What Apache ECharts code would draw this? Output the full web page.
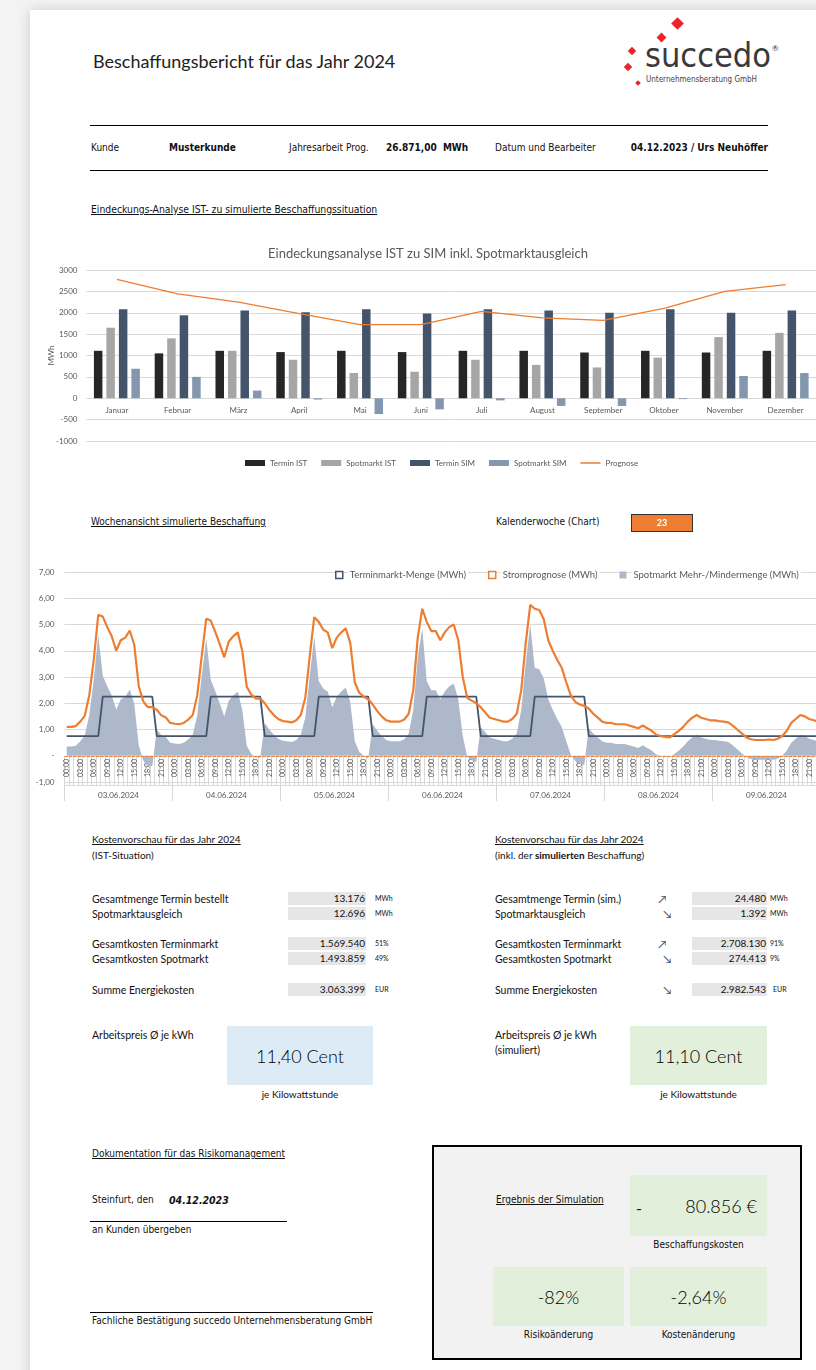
<!DOCTYPE html>
<html lang="de">
<head>
<meta charset="utf-8">
<title>Beschaffungsbericht 2024</title>
<script src="https://cdn.jsdelivr.net/npm/echarts@6/dist/echarts.min.js"></script>
<style>
  body { margin:0; width:816px; height:1370px; overflow:hidden; position:relative; background:#f3f3f3; font-family:Lato, sans-serif; color:#111; }
  #page { position:absolute; left:30px; top:10px; width:820px; height:1380px; background:#fff; box-shadow:0 0 12px rgba(0,0,0,0.16); }
  .t { position:absolute; white-space:nowrap; font-size:10.5px; line-height:12px; }
  .n { font-family:'Liberation Sans Narrow','DejaVu Sans Condensed',sans-serif; }
  .u { text-decoration:underline; }
  .b { font-weight:bold; }
  .hl { position:absolute; height:0; border-top:1.3px solid #000; }
  .box { position:absolute; background:#e7e6e6; height:13px; }
  .val { position:absolute; font-size:10px; line-height:13px; text-align:right; }
  .unit { position:absolute; font-size:7px; line-height:13px; }
  .arr { position:absolute; font-size:11px; color:#44546a; line-height:13px; }
  .big { position:absolute; display:flex; align-items:center; justify-content:center; font-size:18px; font-weight:300; color:#000; }
  .dia { position:absolute; background:#e8262c; transform:rotate(45deg); }
</style>
</head>
<body>
<div id="page"></div>

<!-- Kopf -->
<div class="t" style="left:93px;top:50px;font-size:18px;line-height:22px;color:#222;">Beschaffungsbericht für das Jahr 2024</div>
<div class="dia" style="left:673px;top:19px;width:9px;height:9px;"></div>
<div class="dia" style="left:658px;top:34px;width:7px;height:7px;"></div>
<div class="dia" style="left:629px;top:48px;width:6px;height:6px;"></div>
<div class="dia" style="left:625px;top:64px;width:6px;height:6px;"></div>
<div class="dia" style="left:636px;top:81px;width:4px;height:4px;"></div>
<div class="t n" style="left:645px;top:37px;font-size:34px;line-height:36px;color:#3a3a3a;">succedo</div>
<div class="t" style="left:772px;top:42px;font-size:8px;color:#333;">®</div>
<div class="t n" style="left:646px;top:75px;font-size:8px;line-height:10px;color:#444;">Unternehmensberatung GmbH</div>

<div class="hl" style="left:90px;top:125px;width:678px;"></div>
<div class="t n" style="left:91px;top:142px;font-size:10px;">Kunde</div>
<div class="t n b" style="left:169px;top:142px;font-size:10px;">Musterkunde</div>
<div class="t n" style="left:289px;top:142px;font-size:10px;">Jahresarbeit Prog.</div>
<div class="t n b" style="left:386px;top:142px;font-size:10px;">26.871,00&nbsp;&nbsp;MWh</div>
<div class="t n" style="left:495px;top:142px;font-size:10px;">Datum und Bearbeiter</div>
<div class="t n b" style="right:48px;top:142px;font-size:10px;">04.12.2023 / Urs Neuhöffer</div>
<div class="hl" style="left:90px;top:170px;width:678px;"></div>

<div class="t n u" style="left:91px;top:203px;font-size:10.3px;">Eindeckungs-Analyse IST- zu simulierte Beschaffungssituation</div>

<div id="jahr" style="position:absolute;left:30px;top:235px;width:796px;height:240px;"></div>

<div class="t n u" style="left:91px;top:516px;font-size:10px;">Wochenansicht simulierte Beschaffung</div>
<div class="t n" style="left:496px;top:516px;font-size:10px;">Kalenderwoche (Chart)</div>
<div style="position:absolute;left:631px;top:514px;width:60px;height:16px;background:#ed7d31;border:1px solid #333;color:#fff;font-size:9px;font-weight:bold;text-align:center;line-height:16px;">23</div>

<div id="woche" style="position:absolute;left:30px;top:560px;width:800px;height:245px;"></div>

<!-- Kostenvorschau IST -->
<div class="t u" style="left:92px;top:833px;font-size:10px;">Kostenvorschau für das Jahr 2024</div>
<div class="t" style="left:92px;top:849px;font-size:10px;">(IST-Situation)</div>
<div class="t" style="left:92px;top:893px;">Gesamtmenge Termin bestellt</div>
<div class="t" style="left:92px;top:908px;">Spotmarktausgleich</div>
<div class="t" style="left:92px;top:938px;">Gesamtkosten Terminmarkt</div>
<div class="t" style="left:92px;top:953px;">Gesamtkosten Spotmarkt</div>
<div class="t" style="left:92px;top:984px;">Summe Energiekosten</div>
<div class="box" style="left:288px;top:892px;width:78px;"></div>
<div class="box" style="left:288px;top:907px;width:78px;"></div>
<div class="box" style="left:288px;top:937px;width:78px;"></div>
<div class="box" style="left:288px;top:952px;width:78px;"></div>
<div class="box" style="left:288px;top:983px;width:78px;"></div>
<div class="val" style="left:288px;top:892px;width:77px;">13.176</div>
<div class="val" style="left:288px;top:907px;width:77px;">12.696</div>
<div class="val" style="left:288px;top:937px;width:77px;">1.569.540</div>
<div class="val" style="left:288px;top:952px;width:77px;">1.493.859</div>
<div class="val" style="left:288px;top:983px;width:77px;">3.063.399</div>
<div class="unit" style="left:375px;top:892px;">MWh</div>
<div class="unit" style="left:375px;top:907px;">MWh</div>
<div class="unit" style="left:375px;top:937px;">51%</div>
<div class="unit" style="left:375px;top:952px;">49%</div>
<div class="unit" style="left:375px;top:983px;">EUR</div>
<div class="t" style="left:92px;top:1029px;">Arbeitspreis Ø je kWh</div>
<div class="big" style="left:227px;top:1026px;width:146px;height:59px;background:#ddebf7;">11,40 Cent</div>
<div class="t" style="left:227px;top:1088px;width:146px;text-align:center;font-size:10px;">je Kilowattstunde</div>

<!-- Kostenvorschau simuliert -->
<div class="t u" style="left:495px;top:833px;font-size:10px;">Kostenvorschau für das Jahr 2024</div>
<div class="t" style="left:495px;top:849px;font-size:10px;">(inkl. der <b>simulierten</b> Beschaffung)</div>
<div class="t" style="left:495px;top:893px;">Gesamtmenge Termin (sim.)</div>
<div class="t" style="left:495px;top:908px;">Spotmarktausgleich</div>
<div class="t" style="left:495px;top:938px;">Gesamtkosten Terminmarkt</div>
<div class="t" style="left:495px;top:953px;">Gesamtkosten Spotmarkt</div>
<div class="t" style="left:495px;top:984px;">Summe Energiekosten</div>
<div class="arr" style="left:658px;top:892px;">↗</div>
<div class="arr" style="left:663px;top:907px;">↘</div>
<div class="arr" style="left:658px;top:937px;">↗</div>
<div class="arr" style="left:663px;top:952px;">↘</div>
<div class="arr" style="left:663px;top:983px;">↘</div>
<div class="box" style="left:692px;top:892px;width:75px;"></div>
<div class="box" style="left:692px;top:907px;width:75px;"></div>
<div class="box" style="left:692px;top:937px;width:75px;"></div>
<div class="box" style="left:692px;top:952px;width:75px;"></div>
<div class="box" style="left:692px;top:983px;width:75px;"></div>
<div class="val" style="left:692px;top:892px;width:74px;">24.480</div>
<div class="val" style="left:692px;top:907px;width:74px;">1.392</div>
<div class="val" style="left:692px;top:937px;width:74px;">2.708.130</div>
<div class="val" style="left:692px;top:952px;width:74px;">274.413</div>
<div class="val" style="left:692px;top:983px;width:74px;">2.982.543</div>
<div class="unit" style="left:770px;top:892px;">MWh</div>
<div class="unit" style="left:770px;top:907px;">MWh</div>
<div class="unit" style="left:770px;top:937px;">91%</div>
<div class="unit" style="left:770px;top:952px;">9%</div>
<div class="unit" style="left:773px;top:983px;">EUR</div>
<div class="t" style="left:495px;top:1029px;">Arbeitspreis Ø je kWh</div>
<div class="t" style="left:495px;top:1044px;">(simuliert)</div>
<div class="big" style="left:630px;top:1026px;width:137px;height:59px;background:#e2efda;">11,10 Cent</div>
<div class="t" style="left:630px;top:1088px;width:137px;text-align:center;font-size:10px;">je Kilowattstunde</div>

<!-- Dokumentation -->
<div class="t n u" style="left:92px;top:1148px;font-size:10px;">Dokumentation für das Risikomanagement</div>
<div class="t n" style="left:92px;top:1194px;font-size:10px;">Steinfurt, den</div>
<div class="t n b" style="left:169px;top:1194px;font-size:10.5px;font-style:italic;">04.12.2023</div>
<div class="hl" style="left:90px;top:1221px;width:197px;"></div>
<div class="t n" style="left:92px;top:1224px;font-size:10px;">an Kunden übergeben</div>
<div class="hl" style="left:90px;top:1312px;width:283px;"></div>
<div class="t n" style="left:92px;top:1315px;font-size:10px;">Fachliche Bestätigung succedo Unternehmensberatung GmbH</div>

<div style="position:absolute;left:432px;top:1145px;width:366px;height:211px;background:#f2f2f2;border:2px solid #000;"></div>
<div class="t n u" style="left:496px;top:1194px;font-size:10px;">Ergebnis der Simulation</div>
<div class="big" style="left:630px;top:1175px;width:137px;height:61px;background:#e2efda;justify-content:flex-end;padding-right:10px;box-sizing:border-box;">80.856 €</div>
<div class="t" style="left:636px;top:1198px;font-size:16px;line-height:20px;">-</div>
<div class="t n" style="left:630px;top:1239px;width:137px;text-align:center;font-size:10px;">Beschaffungskosten</div>
<div class="big" style="left:493px;top:1267px;width:131px;height:59px;background:#e2efda;">-82%</div>
<div class="big" style="left:630px;top:1267px;width:137px;height:59px;background:#e2efda;">-2,64%</div>
<div class="t n" style="left:493px;top:1329px;width:131px;text-align:center;font-size:10px;">Risikoänderung</div>
<div class="t n" style="left:630px;top:1329px;width:137px;text-align:center;font-size:10px;">Kostenänderung</div>

<script>
// Jahresübersicht (MWh)
var months = ['Januar', 'Februar', 'März', 'April', 'Mai', 'Juni', 'Juli', 'August', 'September', 'Oktober', 'November', 'Dezember'];
var terminIst = [1110, 1050, 1110, 1080, 1110, 1080, 1110, 1110, 1070, 1110, 1070, 1110];
var spotIst = [1650, 1400, 1110, 900, 590, 620, 900, 780, 720, 950, 1430, 1530];
var terminSim = [2080, 1940, 2050, 2010, 2080, 1980, 2080, 2050, 2000, 2080, 2000, 2050];
var spotSim = [690, 500, 180, -30, -370, -260, -50, -180, -180, -20, 520, 590];
var prognoseJahr = [2780, 2440, 2250, 1980, 1720, 1720, 2030, 1880, 1820, 2100, 2500, 2660];

// Woche KW 23, stündlich (MWh)
var days = ['03.06.2024', '04.06.2024', '05.06.2024', '06.06.2024', '07.06.2024', '08.06.2024', '09.06.2024'];
var hours = ['00:00', '01:00', '02:00', '03:00', '04:00', '05:00', '06:00', '07:00', '08:00', '09:00', '10:00', '11:00',
  '12:00', '13:00', '14:00', '15:00', '16:00', '17:00', '18:00', '19:00', '20:00', '21:00', '22:00', '23:00'];
var prognose = [
  1.10, 1.10, 1.13, 1.30, 1.52, 2.30, 3.65, 5.37, 5.30, 4.90, 4.55, 4.00, 4.40, 4.50, 4.77, 4.23, 2.65, 2.07, 1.85, 1.85, 1.75, 1.54, 1.46, 1.25,
  1.22, 1.20, 1.25, 1.38, 1.55, 2.30, 3.80, 5.22, 5.15, 4.72, 4.25, 3.75, 4.35, 4.55, 4.70, 4.00, 2.63, 2.33, 2.18, 2.18, 2.00, 1.75, 1.55, 1.40,
  1.32, 1.30, 1.27, 1.35, 1.55, 2.20, 3.80, 5.28, 5.10, 4.80, 4.70, 4.10, 4.50, 4.70, 4.85, 4.30, 2.80, 2.40, 2.25, 2.15, 1.95, 1.70, 1.50, 1.35,
  1.30, 1.30, 1.30, 1.38, 1.60, 2.50, 4.50, 5.60, 5.10, 4.75, 4.75, 4.40, 4.70, 4.90, 5.00, 4.40, 3.00, 2.20, 2.10, 2.00, 1.85, 1.65, 1.45, 1.40,
  1.35, 1.30, 1.30, 1.40, 1.60, 2.50, 4.30, 5.75, 5.60, 5.55, 5.20, 4.40, 4.00, 3.65, 3.35, 2.80, 2.30, 2.05, 1.95, 1.90, 1.80, 1.60, 1.45, 1.30,
  1.25, 1.25, 1.20, 1.20, 1.20, 1.15, 1.10, 1.05, 1.15, 1.05, 0.95, 0.80, 0.75, 0.72, 0.70, 0.82, 0.95, 1.10, 1.30, 1.45, 1.55, 1.45, 1.40, 1.35,
  1.35, 1.32, 1.30, 1.27, 1.15, 1.00, 0.85, 0.70, 0.63, 0.60, 0.60, 0.60, 0.62, 0.60, 0.65, 0.75, 0.95, 1.25, 1.40, 1.55, 1.50, 1.40, 1.35, 1.30
];
var termin = [
  0.75, 0.75, 0.75, 0.75, 0.75, 0.75, 0.75, 0.75, 2.25, 2.25, 2.25, 2.25, 2.25, 2.25, 2.25, 2.25, 2.25, 2.25, 2.25, 2.25, 0.75, 0.75, 0.75, 0.75,
  0.75, 0.75, 0.75, 0.75, 0.75, 0.75, 0.75, 0.75, 2.25, 2.25, 2.25, 2.25, 2.25, 2.25, 2.25, 2.25, 2.25, 2.25, 2.25, 2.25, 0.75, 0.75, 0.75, 0.75,
  0.75, 0.75, 0.75, 0.75, 0.75, 0.75, 0.75, 0.75, 2.25, 2.25, 2.25, 2.25, 2.25, 2.25, 2.25, 2.25, 2.25, 2.25, 2.25, 2.25, 0.75, 0.75, 0.75, 0.75,
  0.75, 0.75, 0.75, 0.75, 0.75, 0.75, 0.75, 0.75, 2.25, 2.25, 2.25, 2.25, 2.25, 2.25, 2.25, 2.25, 2.25, 2.25, 2.25, 2.25, 0.75, 0.75, 0.75, 0.75,
  0.75, 0.75, 0.75, 0.75, 0.75, 0.75, 0.75, 0.75, 2.25, 2.25, 2.25, 2.25, 2.25, 2.25, 2.25, 2.25, 2.25, 2.25, 2.25, 2.25, 0.75, 0.75, 0.75, 0.75,
  0.75, 0.75, 0.75, 0.75, 0.75, 0.75, 0.75, 0.75, 0.75, 0.75, 0.75, 0.75, 0.75, 0.75, 0.75, 0.75, 0.75, 0.75, 0.75, 0.75, 0.75, 0.75, 0.75, 0.75,
  0.75, 0.75, 0.75, 0.75, 0.75, 0.75, 0.75, 0.75, 0.75, 0.75, 0.75, 0.75, 0.75, 0.75, 0.75, 0.75, 0.75, 0.75, 0.75, 0.75, 0.75, 0.75, 0.75, 0.75
];
var spot = [
  0.35, 0.35, 0.38, 0.55, 0.77, 1.55, 2.90, 4.62, 3.05, 2.65, 2.30, 1.75, 2.15, 2.25, 2.52, 1.98, 0.40, -0.18, -0.40, -0.40, 1.00, 0.79, 0.71, 0.50,
  0.47, 0.45, 0.50, 0.63, 0.80, 1.55, 3.05, 4.47, 2.90, 2.47, 2.00, 1.50, 2.10, 2.30, 2.45, 1.75, 0.38, 0.08, -0.07, -0.07, 1.25, 1.00, 0.80, 0.65,
  0.57, 0.55, 0.52, 0.60, 0.80, 1.45, 3.05, 4.53, 2.85, 2.55, 2.45, 1.85, 2.25, 2.45, 2.60, 2.05, 0.55, 0.15, 0.00, -0.10, 1.20, 0.95, 0.75, 0.60,
  0.55, 0.55, 0.55, 0.63, 0.85, 1.75, 3.75, 4.85, 2.85, 2.50, 2.50, 2.15, 2.45, 2.65, 2.75, 2.15, 0.75, -0.05, -0.15, -0.25, 1.10, 0.90, 0.70, 0.65,
  0.60, 0.55, 0.55, 0.65, 0.85, 1.75, 3.55, 5.00, 3.35, 3.30, 2.95, 2.15, 1.75, 1.40, 1.10, 0.55, 0.05, -0.20, -0.30, -0.35, 1.05, 0.85, 0.70, 0.55,
  0.50, 0.50, 0.45, 0.45, 0.45, 0.40, 0.35, 0.30, 0.40, 0.30, 0.20, 0.05, 0.00, -0.03, -0.05, 0.07, 0.20, 0.35, 0.55, 0.70, 0.80, 0.70, 0.65, 0.60,
  0.60, 0.57, 0.55, 0.52, 0.40, 0.25, 0.10, -0.05, -0.12, -0.15, -0.15, -0.15, -0.13, -0.15, -0.10, 0.00, 0.20, 0.50, 0.65, 0.80, 0.75, 0.65, 0.60, 0.55
];

var txt = '#595959';
var grid = '#d9d9d9';

// Diagramm 1: Eindeckungsanalyse
var jahrChart = echarts.init(document.getElementById('jahr'));
jahrChart.setOption({
  animation: false,
  textStyle: { fontFamily: 'Lato, sans-serif' },
  title: {
    text: 'Eindeckungsanalyse IST zu SIM inkl. Spotmarktausgleich',
    left: 'center', top: 7,
    textStyle: { fontSize: 13, fontWeight: 'normal', color: txt }
  },
  legend: {
    left: 210, top: 219, itemWidth: 20, itemHeight: 6, itemGap: 14,
    textStyle: { fontSize: 8, color: txt },
    data: [
      { name: 'Termin IST', icon: 'rect' },
      { name: 'Spotmarkt IST', icon: 'rect' },
      { name: 'Termin SIM', icon: 'rect' },
      { name: 'Spotmarkt SIM', icon: 'rect' },
      { name: 'Prognose', icon: 'path://M0,0H20V1.5H0Z' }
    ]
  },
  grid: { left: 56.5, right: 10, top: 35, height: 171, outerBoundsMode: 'none' },
  xAxis: {
    type: 'category', data: months,
    axisLine: { show: false, onZero: false },
    axisTick: { show: false },
    // Beschriftung sitzt auf der Nulllinie (171/4 px über dem unteren Rand)
    axisLabel: { fontSize: 8, color: txt, margin: -34.5 }
  },
  yAxis: {
    type: 'value', min: -1000, max: 3000, interval: 500,
    name: 'MWh', nameLocation: 'middle', nameGap: 31, nameRotate: 90, nameMoveOverlap: false,
    nameTextStyle: { fontSize: 8, color: txt },
    axisLabel: { fontSize: 8, color: txt, margin: 9, formatter: function (v) { return String(v); } },
    splitLine: { lineStyle: { color: grid } }
  },
  series: [
    { name: 'Termin IST', type: 'bar', data: terminIst, barWidth: 8.5, barGap: '47%', itemStyle: { color: '#262626' } },
    { name: 'Spotmarkt IST', type: 'bar', data: spotIst, barWidth: 8.5, barGap: '47%', itemStyle: { color: '#a6a6a6' } },
    { name: 'Termin SIM', type: 'bar', data: terminSim, barWidth: 8.5, barGap: '47%', itemStyle: { color: '#44546a' } },
    { name: 'Spotmarkt SIM', type: 'bar', data: spotSim, barWidth: 8.5, barGap: '47%', itemStyle: { color: '#8497b0' } },
    { name: 'Prognose', type: 'line', data: prognoseJahr, showSymbol: false, symbol: 'none',
      itemStyle: { color: '#ed7d31' }, lineStyle: { color: '#ed7d31', width: 1.3 } }
  ]
});

// Diagramm 2: Wochenansicht
var hourCats = [];
days.forEach(function (d) {
  hours.forEach(function (h) { hourCats.push(d + ' ' + h); });
});

var wocheChart = echarts.init(document.getElementById('woche'));
wocheChart.setOption({
  animation: false,
  textStyle: { fontFamily: 'Lato, sans-serif' },
  legend: {
    left: 300, top: 4, itemWidth: 7, itemHeight: 7, itemGap: 20,
    textStyle: { fontSize: 9.5, color: txt, backgroundColor: '#fff', padding: [1, 2] },
    data: [
      { name: 'Terminmarkt-Menge (MWh)', icon: 'rect', itemStyle: { color: '#fff', borderColor: '#44546a', borderWidth: 1.5 } },
      { name: 'Stromprognose (MWh)', icon: 'rect', itemStyle: { color: '#fff', borderColor: '#ed7d31', borderWidth: 1.5 } },
      { name: 'Spotmarkt Mehr-/Mindermenge (MWh)', icon: 'rect', itemStyle: { color: '#adb9ca' } }
    ]
  },
  grid: { left: 34.5, right: 9.5, top: 12, height: 210, outerBoundsMode: 'none' },
  xAxis: [
    {
      type: 'category', data: hourCats, offset: 3,
      axisLine: { onZero: false, lineStyle: { color: grid } },
      axisTick: { show: true, inside: true, interval: 0, length: 29, lineStyle: { color: grid } },
      axisLabel: {
        interval: 2, rotate: 90, fontSize: 7, color: txt, margin: -26,
        formatter: function (v) { return v.split(' ')[1]; }
      }
    },
    {
      type: 'category', data: days, position: 'bottom', offset: 3,
      axisLine: { onZero: false, lineStyle: { color: grid } },
      axisTick: { show: true, length: 16, lineStyle: { color: grid } },
      axisLabel: { fontSize: 8, color: txt, margin: 6 }
    }
  ],
  yAxis: {
    type: 'value', min: -1, max: 7, interval: 1,
    axisLabel: {
      fontSize: 8, color: txt, margin: 10,
      formatter: function (v) { return v === 0 ? '-' : v.toFixed(2).replace('.', ','); }
    },
    splitLine: { lineStyle: { color: grid } }
  },
  series: [
    { name: 'Spotmarkt Mehr-/Mindermenge (MWh)', type: 'line', data: spot, showSymbol: false, symbol: 'none',
      itemStyle: { color: '#adb9ca' }, lineStyle: { width: 0 }, areaStyle: { color: '#adb9ca', opacity: 1 },
      markLine: {
        silent: true, symbol: 'none', label: { show: false },
        lineStyle: { color: '#ed7d31', width: 1, type: [3, 1.5] },
        data: [{ yAxis: 0 }]
      } },
    { name: 'Terminmarkt-Menge (MWh)', type: 'line', data: termin, showSymbol: false, symbol: 'none',
      itemStyle: { color: '#44546a' }, lineStyle: { color: '#44546a', width: 1.8 } },
    { name: 'Stromprognose (MWh)', type: 'line', data: prognose, showSymbol: false, symbol: 'none',
      itemStyle: { color: '#ed7d31' }, lineStyle: { color: '#ed7d31', width: 2.2 } }
  ]
});
</script>
</body>
</html>
